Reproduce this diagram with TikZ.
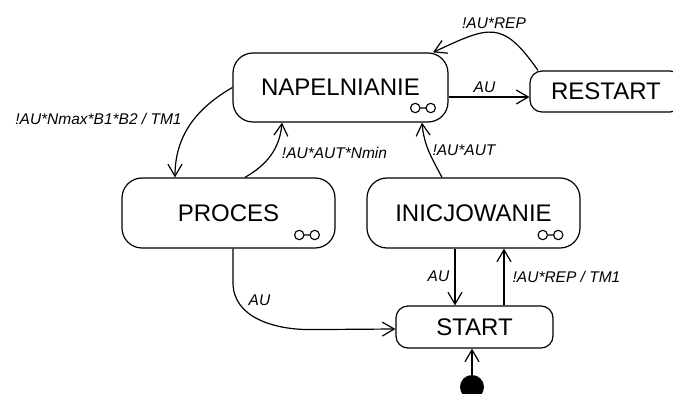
\documentclass[tikz,border=0pt]{standalone}
\usepackage{fontspec}
\setmainfont{Liberation Sans}
\usetikzlibrary{arrows.meta}

\tikzset{
  line/.style={line width=1.2pt},
  trans/.style={line, -{Straight Barb[length=12pt,width=14pt,line width=1.2pt]}},
  superstate/.style={line, draw, rounded corners=20pt, inner sep=0pt,
    minimum width=213pt, minimum height=70pt, font=\fontsize{24}{28}\selectfont},
  simplestate/.style={line, draw, rounded corners=12pt, inner sep=0pt,
    minimum height=42pt, font=\fontsize{24}{28}\selectfont},
  guard/.style={inner sep=0pt, font=\fontsize{15.5}{18}\selectfont\itshape},
  initial/.style={circle, fill=black, inner sep=0pt, minimum size=24pt},
  subicon/.pic={
    \draw[line width=1.1pt] (-7.75,0) circle (4.7pt) (7.75,0) circle (4.7pt)
      (-3.05,0) -- (3.05,0);
  }
}

\begin{document}
\begin{tikzpicture}[x=1pt, y=1pt]
  \useasboundingbox (0,0) rectangle (673,394);
  \clip (0,0) rectangle (673,394);

  % states
  \node[superstate, minimum width=215pt, minimum height=69pt] (nap) at (340.5,306.5) {NAPELNIANIE};
  \node[superstate] (proc) at (228.5,181) {PROCES};
  \node[superstate] (inic) at (473.5,181) {INICJOWANIE};
  \node[simplestate, minimum width=157pt] (start) at (474.5,67) {START};
  \node[simplestate, minimum width=152pt, minimum height=41pt] (rest) at (606,302.5) {RESTART};
  \node[initial] (init) at (472,7) {};

  % decomposition icons
  \pic at (423,286) {subicon};
  \pic at (307,159) {subicon};
  \pic at (550.5,159) {subicon};

  % transitions
  \draw[trans] (nap.west) to[out=210, in=90] ([xshift=-53.5pt]proc.north);
  \draw[trans] ([xshift=16.5pt]proc.north) to[out=30, in=-95] ([xshift=-58.5pt]nap.south);
  \draw[trans] ([xshift=-31.5pt]inic.north) to[out=118, in=-85] ([xshift=81.5pt]nap.south);
  \draw[trans] ([yshift=-9.5pt]nap.east) -- ([yshift=-5.5pt]rest.west);
  \draw[trans] ([xshift=-68pt]rest.north) to[out=125, in=25, looseness=1.5] ([xshift=92.5pt]nap.north);
  \draw[trans] ([xshift=4.5pt]proc.south) -- ++(0,-34) to[out=-90, in=180] ++(77,-47)
    -- ([yshift=-2pt]start.west);
  \draw[trans] ([xshift=-18.5pt]inic.south) -- ([xshift=-18.5pt]inic.south |- start.north);
  \draw[trans] ([xshift=29.5pt]start.north) -- ([xshift=29.5pt]start.north |- inic.south);
  \draw[trans] (init.north) -- (init.north |- start.south);

  % guards
  \node[guard] (g1) at (98.5,275.5) {!AU*Nmax*B1*B2 / TM1};
  \node[guard] (g2) at (334.5,241.5) {!AU*AUT*Nmin};
  \node[guard] (g3) at (464,243.5) {!AU*AUT};
  \node[guard] (g4) at (484.5,306.5) {AU};
  \node[guard] (g5) at (494,371) {!AU*REP};
  \node[guard] (g6) at (259.5,94) {AU};
  \node[guard] (g7) at (438.5,117.5) {AU};
  \node[guard] (g8) at (566.5,117.5) {!AU*REP / TM1};
\end{tikzpicture}
\end{document}
